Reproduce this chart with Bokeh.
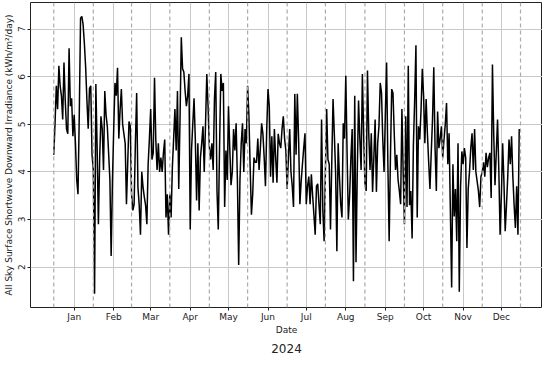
import pandas as pd
from bokeh.plotting import figure
from bokeh.models import FixedTicker, Range1d, Span, Title
from bokeh.embed import file_html
from bokeh.resources import INLINE

start_date = "2023-12-16"

values_1 = [4.36, 5.03, 5.81, 5.32, 6.23, 5.81, 5.6, 5.1, 6.3, 5.5,
            4.9, 4.8, 6.6, 5.38, 5.55, 4.75, 5.2, 4.6, 3.83, 3.53,
            5.2, 7.23, 7.27, 7.1, 6.7, 6.2, 5.5, 4.91, 5.75, 5.81,
            4.36, 4.04, 1.44, 5.85, 4.5, 2.9, 4.3, 5.17, 4.9, 4.04,
            5.7, 5.2, 4.95, 4.4, 3.85, 2.23, 3.8, 4.9, 5.87, 5.6,
            6.19, 4.7, 5.3, 5.74, 5.0, 4.8, 4.6, 3.32, 4.2, 5.06]
values_2 = [4.96, 3.53, 3.19, 3.32, 4.6, 5.66, 3.68, 3.3, 2.68, 4.0,
            3.68, 3.47, 3.3, 2.9, 4.16, 4.7, 5.32, 4.26, 4.4, 5.98,
            4.68, 4.04, 4.6, 4.0, 4.3, 4.0, 4.4, 4.68, 3.04, 3.53,
            2.68, 3.53, 3.04, 4.1, 4.7, 5.32, 4.45, 5.7, 3.64, 5.1,
            6.83, 6.17, 6.1, 5.7, 5.38, 5.6, 6.06, 2.79, 4.45, 5.0,
            5.55, 4.68, 3.4, 4.6, 3.19, 4.3, 4.6, 4.96, 4.0, 5.0,
            6.06]
values_3 = [5.38, 4.53, 4.26, 4.6, 4.04, 5.53, 6.1, 3.6, 2.79, 4.5,
            6.06, 5.7, 5.87, 3.26, 4.45, 3.83, 5.38, 4.5, 3.72, 4.0,
            4.9, 4.45, 5.02, 3.83, 2.04, 3.83, 4.6, 5.02, 4.0, 4.9,
            4.6, 5.81, 5.2, 4.1, 3.1, 3.53, 4.3, 4.2, 4.2, 4.7,
            4.04, 4.5, 5.02, 4.8, 4.3, 3.7, 4.9, 5.74, 5.38, 3.9,
            4.75, 3.77, 4.9, 4.3, 3.77, 4.8, 4.6, 4.5, 4.9, 5.17,
            4.7, 4.45]
values_4 = [3.64, 4.3, 4.9, 4.0, 3.7, 3.26, 5.64, 4.36, 5.64, 4.68,
            3.32, 3.8, 4.16, 4.5, 4.81, 3.32, 3.7, 3.9, 3.32, 3.95,
            3.5, 3.1, 2.68, 3.7, 3.75, 3.3, 2.9, 5.1, 3.19, 2.54,
            4.0, 5.32, 4.26, 4.16, 2.79, 4.2, 5.53, 4.8, 4.0, 2.33,
            4.6, 3.9, 3.32, 3.04, 5.02, 4.7, 6.02, 4.4, 3.0, 3.5,
            4.3, 4.9, 1.7, 5.6, 2.1, 4.0, 5.5, 4.7, 4.04, 6.06,
            4.8, 3.77]
values_5 = [3.6, 6.13, 4.81, 4.04, 4.81, 3.58, 4.3, 5.1, 3.58, 4.6,
            4.96, 5.87, 5.66, 4.68, 4.0, 5.2, 6.3, 4.16, 2.54, 4.3,
            5.74, 5.66, 4.8, 4.04, 4.36, 3.83, 3.6, 3.32, 5.32, 4.0,
            2.9, 5.17, 3.26, 6.23, 3.3, 3.6, 2.6, 4.55, 5.5, 6.66,
            3.04, 4.96, 4.68, 5.3, 6.17, 5.6, 4.6, 5.53, 4.8, 4.2,
            3.64, 4.4, 5.1, 6.2, 4.5, 3.6, 5.27, 4.5, 4.7, 4.96,
            4.3]
values_6 = [4.68, 5.0, 5.45, 4.16, 4.81, 3.2, 1.57, 4.16, 3.06, 3.64,
            2.54, 4.6, 1.48, 3.68, 4.43, 4.16, 4.5, 4.3, 2.4, 3.64,
            4.0, 4.5, 4.81, 4.04, 4.9, 4.0, 3.8, 3.6, 3.26, 3.9,
            4.0, 4.2, 3.9, 4.4, 4.1, 4.3, 4.4, 3.45, 6.26, 4.8,
            3.72, 4.4, 5.1, 4.04, 2.68, 3.5, 4.6, 3.8, 2.75, 3.3,
            3.9, 4.68, 4.16, 4.75, 3.9, 3.3, 2.82, 3.7, 2.68, 4.9]

month_starts = ["2024-01-01", "2024-02-01", "2024-03-01", "2024-04-01", "2024-05-01", "2024-06-01",
                "2024-07-01", "2024-08-01", "2024-09-01", "2024-10-01", "2024-11-01", "2024-12-01"]
month_labels = ["Jan", "Feb", "Mar", "Apr", "May", "Jun", "Jul", "Aug", "Sep", "Oct", "Nov", "Dec"]
mid_month_marks = ["2023-12-16", "2024-01-16", "2024-02-15", "2024-03-16", "2024-04-16", "2024-05-16",
                   "2024-06-16", "2024-07-16", "2024-08-16", "2024-09-16", "2024-10-16", "2024-11-16",
                   "2024-12-16"]
y_ticks = [2, 3, 4, 5, 6, 7]

values = values_1 + values_2 + values_3 + values_4 + values_5 + values_6
dates = pd.date_range(start_date, periods=len(values), freq="D")


def ms(d):
    return float(pd.Timestamp(d).value // 10**6)


x0, x1 = ms(dates[0]), ms(dates[-1])
xpad = 0.05 * (x1 - x0)
vmin, vmax = min(values), max(values)
ypad = 0.05 * (vmax - vmin)

FONT = "DejaVu Sans"

p = figure(width=542, height=356, x_axis_type="datetime", output_backend="svg",
           toolbar_location=None,
           x_range=Range1d(x0 - xpad, x1 + xpad), y_range=Range1d(vmin - ypad, vmax + ypad),
           min_border_left=2, min_border_right=0, min_border_top=2, min_border_bottom=2)

p.background_fill_color = "white"
p.outline_line_color = "#222222"
p.outline_line_width = 1

tick_ms = [ms(d) for d in month_starts]
p.xaxis.ticker = FixedTicker(ticks=tick_ms)
p.xaxis.major_label_overrides = {t: lab for t, lab in zip(tick_ms, month_labels)}
p.xgrid.ticker = FixedTicker(ticks=tick_ms)
p.yaxis.ticker = FixedTicker(ticks=y_ticks)
p.ygrid.ticker = FixedTicker(ticks=y_ticks)
p.xaxis.minor_tick_line_color = None
p.yaxis.minor_tick_line_color = None

for g in (p.xgrid, p.ygrid):
    g.grid_line_color = "#c8c8c8"
    g.grid_line_width = 1

for ax in (p.xaxis, p.yaxis):
    ax.axis_line_color = None
    ax.major_tick_line_color = "#222222"
    ax.major_tick_out = 3
    ax.major_tick_in = 0
    ax.major_label_text_font = FONT
    ax.major_label_text_font_size = "9px"
    ax.major_label_text_color = "#222222"
    ax.axis_label_text_font = FONT
    ax.axis_label_text_font_size = "9px"
    ax.axis_label_text_font_style = "normal"
    ax.axis_label_text_color = "#222222"
    ax.major_label_standoff = 2
    ax.axis_label_standoff = 2

p.xaxis.major_label_standoff = 1
p.xaxis.axis_label_standoff = 0
p.xaxis.axis_label = "Date"
p.yaxis.axis_label = "All Sky Surface Shortwave Downward Irradiance (kWh/m\u00b2/day)"
p.yaxis.major_label_orientation = "vertical"

for d in mid_month_marks:
    p.add_layout(Span(location=ms(d), dimension="height", line_color="#aaaaaa",
                      line_dash="4 3", line_width=1.2))

p.line(dates, values, line_color="black", line_width=1.5)

p.add_layout(Title(text="2024", align="center", text_font=FONT, text_font_size="12px",
                   text_font_style="normal", text_color="#222222", standoff=8), "below")

open("out.html", "w").write(file_html(p, INLINE))
